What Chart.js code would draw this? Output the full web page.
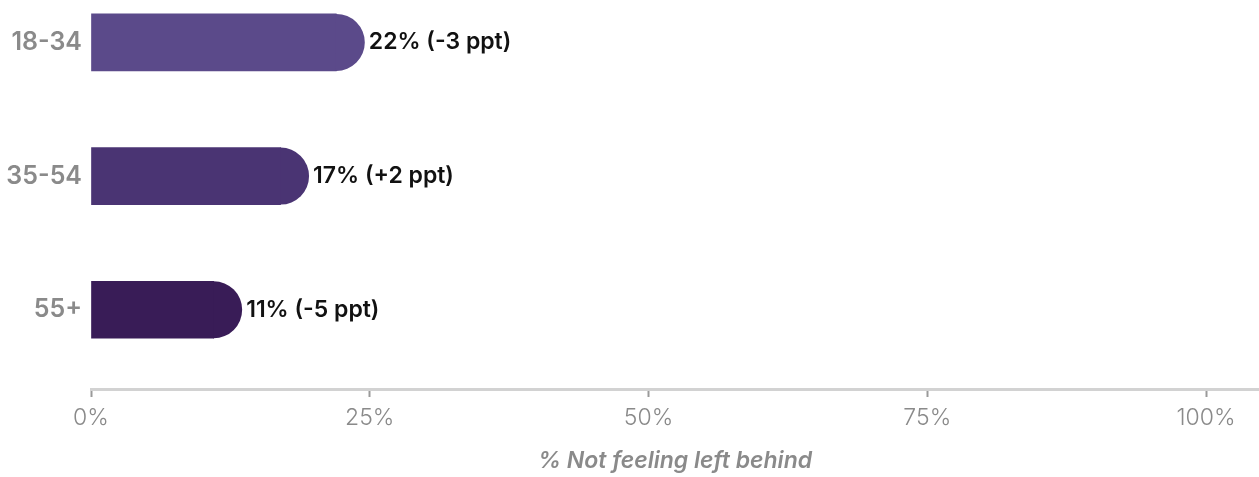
<!DOCTYPE html>
<html>
<head>
<meta charset="utf-8">
<script src="https://cdn.jsdelivr.net/npm/chart.js@4/dist/chart.umd.min.js"></script>
<style>
  html, body { margin: 0; padding: 0; background: #ffffff; }
  #wrap { width: 1259px; height: 477px; }
</style>
</head>
<body>
<div id="wrap"><canvas id="c" width="1259" height="477"></canvas></div>
<script>
// Age groups and the share not feeling left behind, with change vs. last wave
const categories = ['18-34', '35-54', '55+'];
const values = [22, 17, 11];
const changes = [-3, 2, -5];
const barColors = ['#5b4a8a', '#4a3473', '#391c57'];
const xTicks = [0, 25, 50, 75, 100];

const FONT = "Inter, 'Noto Sans', sans-serif";

const labelText = (i) => {
  const c = changes[i];
  const sign = c > 0 ? '+' : '-';
  return values[i] + '% (' + sign + Math.abs(c) + ' ppt)';
};

// Round cap past the value end plus the value label
const capsAndLabels = {
  id: 'capsAndLabels',
  afterDatasetsDraw(chart) {
    const ctx = chart.ctx;
    const meta = chart.getDatasetMeta(0);
    meta.data.forEach((bar, i) => {
      const { x, y, height } = bar.getProps(['x', 'y', 'height'], true);
      const r = height / 2;
      ctx.save();
      ctx.fillStyle = barColors[i];
      ctx.beginPath();
      ctx.moveTo(x - 0.5, y - r);
      ctx.arc(x, y, r, -Math.PI / 2, Math.PI / 2);
      ctx.lineTo(x - 0.5, y + r);
      ctx.closePath();
      ctx.fill();
      ctx.fillStyle = '#111111';
      ctx.font = "600 23px " + FONT;
      ctx.textAlign = 'left';
      ctx.textBaseline = 'middle';
      ctx.fillText(labelText(i), x + r + 4, y);
      ctx.restore();
    });
  }
};

new Chart(document.getElementById('c'), {
  type: 'bar',
  data: {
    datasets: [{
      data: values.map((v, i) => ({ x: v, y: i })),
      backgroundColor: barColors,
      borderWidth: 0,
      borderRadius: 0,
      barThickness: 57,
      clip: false
    }]
  },
  options: {
    indexAxis: 'y',
    responsive: false,
    animation: false,
    layout: { padding: 0 },
    plugins: { legend: { display: false }, tooltip: { enabled: false } },
    scales: {
      y: {
        type: 'linear',
        offset: false,
        reverse: true,
        min: -0.138,
        max: 2.593,
        afterBuildTicks: (s) => { s.ticks = categories.map((_, i) => ({ value: i })); },
        afterFit: (s) => { s.width = 91; },
        grid: { display: false, drawTicks: false, offset: false },
        border: { display: false },
        ticks: {
          padding: 9,
          color: '#8a8a8a',
          font: { family: FONT, size: 25, weight: '600' },
          callback: (v) => categories[v]
        }
      },
      x: {
        type: 'linear',
        min: 0,
        max: 104.75,
        afterBuildTicks: (s) => { s.ticks = xTicks.map(v => ({ value: v })); },
        afterFit: (s) => { s.height = 88; },
        grid: {
          drawOnChartArea: false,
          drawTicks: true,
          tickLength: 8,
          tickColor: '#9a9a9a',
          tickWidth: 2
        },
        border: { display: true, color: '#d2d2d2', width: 3 },
        ticks: {
          padding: 7,
          color: '#8a8a8a',
          font: { family: FONT, size: 23, weight: '300' },
          callback: (v) => v + '%'
        },
        title: {
          display: true,
          text: '% Not feeling left behind',
          color: '#8a8a8a',
          padding: { top: 0, bottom: 2 },
          font: { family: FONT, size: 23, weight: '600', style: 'italic' }
        }
      }
    }
  },
  plugins: [capsAndLabels]
});
</script>
</body>
</html>
